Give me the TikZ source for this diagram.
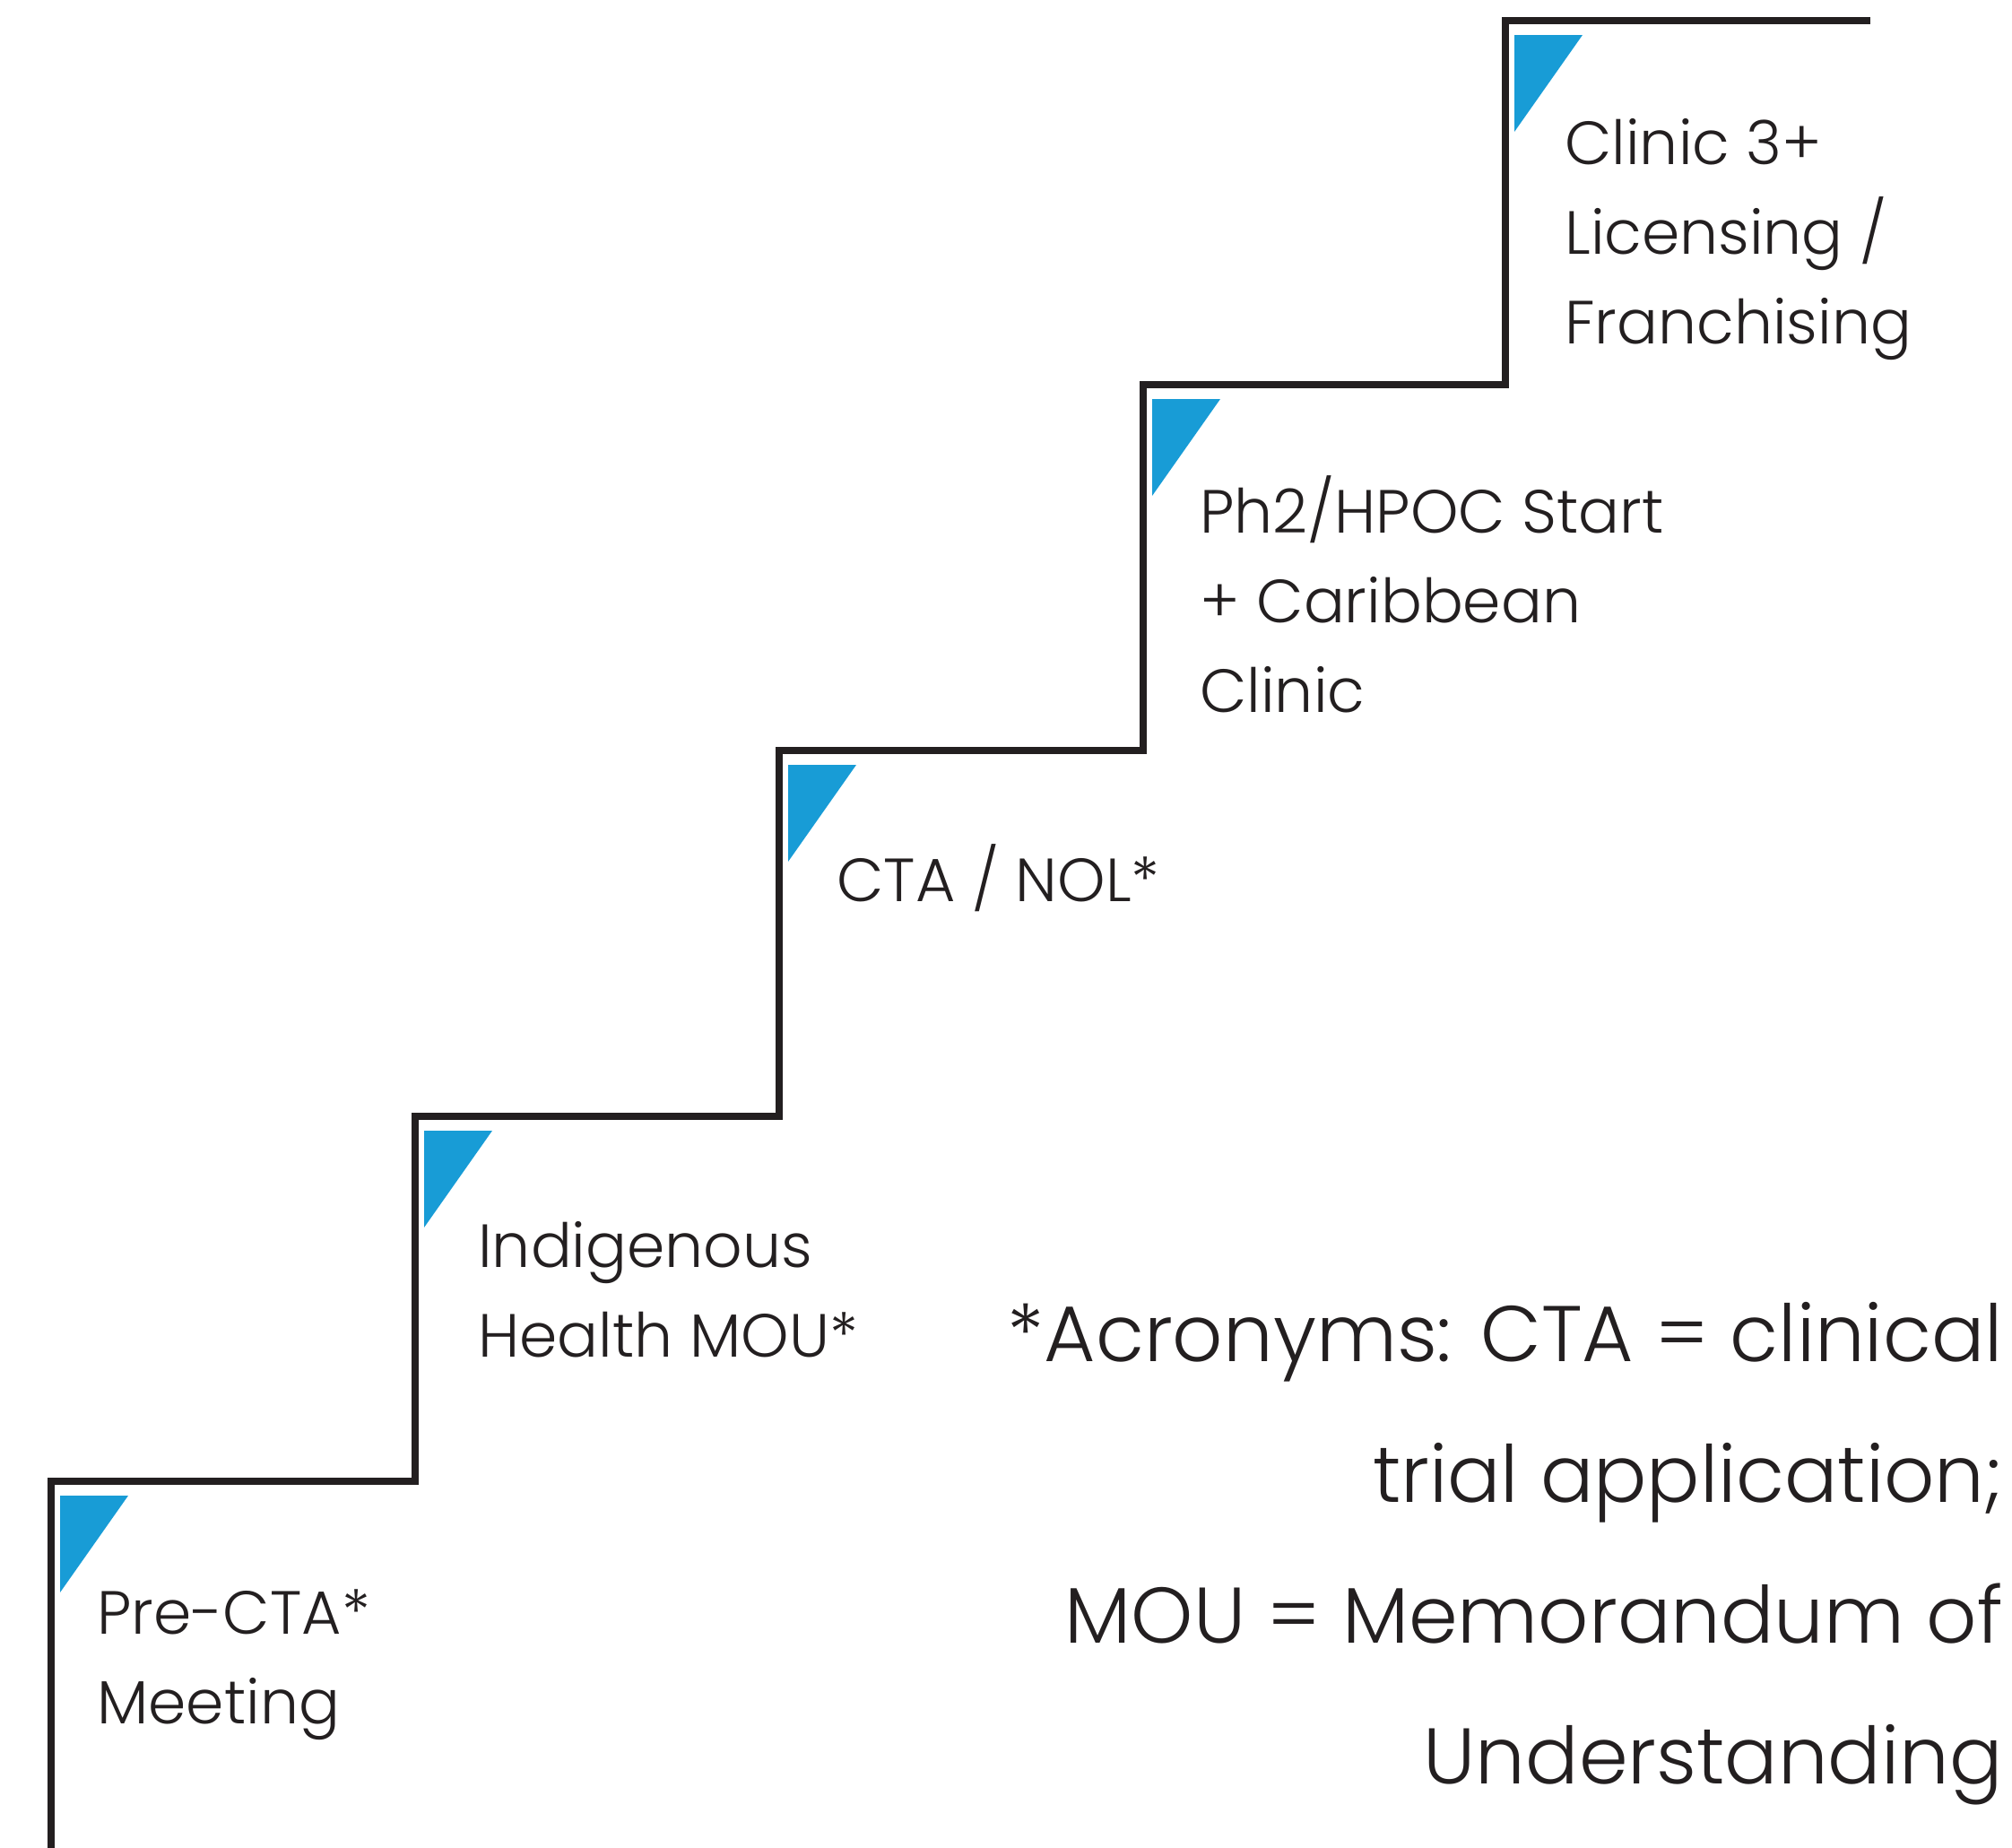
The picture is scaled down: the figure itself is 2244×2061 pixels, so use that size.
\documentclass[tikz,border=0pt]{standalone}
\usepackage{fontspec}
\setmainfont{Poppins Light}
\definecolor{stepblue}{HTML}{189CD6}
\definecolor{inkgray}{HTML}{231F20}
\tikzset{
  stair/.style={draw=inkgray, line width=4pt},
  flag/.style={fill=stepblue},
  milestone/.style={anchor=base west, align=left, inner sep=0pt, text=inkgray,
    font=\fontsize{34}{50}\selectfont},
  acronyms/.style={anchor=base east, align=right, inner sep=0pt, text=inkgray,
    font=\fontsize{44}{78.5}\selectfont}
}

\begin{document}
\begin{tikzpicture}[x=0.5pt,y=0.5pt,yscale=-1]
\useasboundingbox (0,0) rectangle (2244,2061);
% corners of the stairs
\coordinate (b) at (57,2061);
\coordinate (c1) at (57,1652);
\coordinate (c2) at (463,1245);
\coordinate (c3) at (869,837);
\coordinate (c4) at (1275,429);
\coordinate (c5) at (1679,23);
\coordinate (e) at (2086,23);
\draw[stair] (b) -- (c1) -| (c2) -| (c3) -| (c4) -| (c5) -- (e);
% blue flags
\fill[flag] (c1) ++(10,16) -- ++(76,0) -- ++(-76,108) -- cycle;
\fill[flag] (c2) ++(10,16) -- ++(76,0) -- ++(-76,108) -- cycle;
\fill[flag] (c3) ++(10,16) -- ++(76,0) -- ++(-76,108) -- cycle;
\fill[flag] (c4) ++(10,16) -- ++(76,0) -- ++(-76,108) -- cycle;
\fill[flag] (c5) ++(10,16) -- ++(76,0) -- ++(-76,108) -- cycle;
% step labels (placed at the baseline of their last line)
\node[milestone] (1) at (108,1922) {Pre-CTA*\\Meeting};
\node[milestone] (2) at (533,1513) {Indigenous\\Health MOU*};
\node[milestone] (3) at (933,1005) {CTA / NOL*};
\node[milestone] (4) at (1338,794) {Ph2/HPOC Start\\+ Caribbean\\Clinic};
\node[milestone] (5) at (1745,383) {Clinic 3+\\Licensing /\\Franchising};
% note
\node[acronyms] (6) at (2234,1989) {*Acronyms: CTA = clinical\\trial application;\\MOU = Memorandum of\\Understanding};
\end{tikzpicture}
\end{document}
